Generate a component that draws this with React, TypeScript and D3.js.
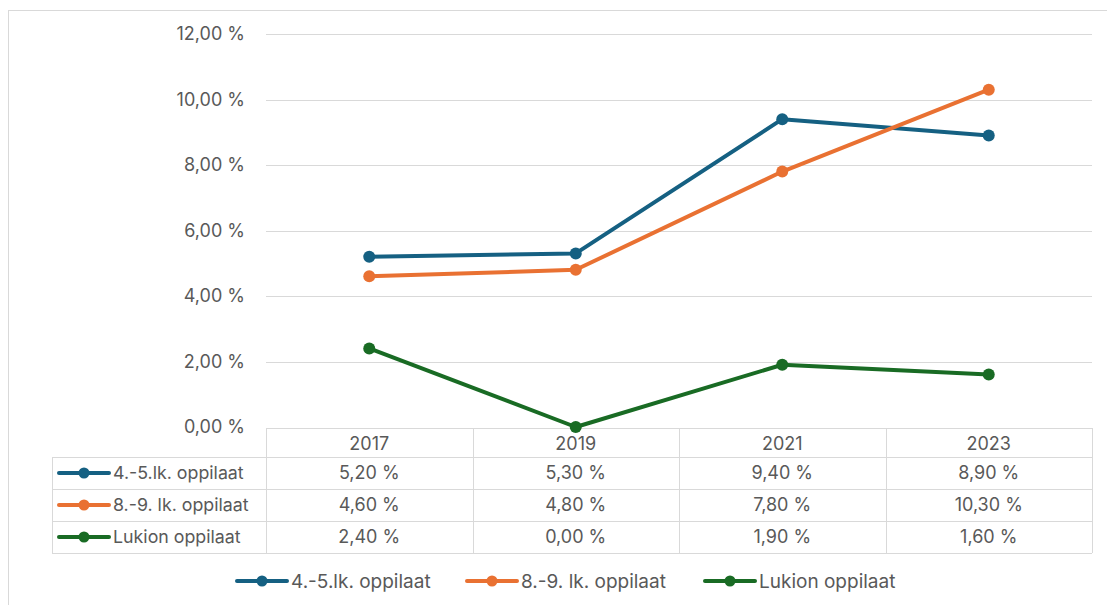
import { useRef, useEffect } from 'react';
import * as d3 from 'd3';

const years = ['2017', '2019', '2021', '2023'];
const seriesNames = ['4.-5.lk. oppilaat', '8.-9. lk. oppilaat', 'Lukion oppilaat'];
const grade45 = [5.2, 5.3, 9.4, 8.9];
const grade89 = [4.6, 4.8, 7.8, 10.3];
const upper = [2.4, 0.0, 1.9, 1.6];
const colors = ['#156082', '#E97132', '#196B24'];
const yTicks = [0, 2, 4, 6, 8, 10, 12];

const W = 1107;
const H = 605;
const FONT = 'Inter, "Noto Sans", sans-serif';
const TEXT = '#595959';
const GRID = '#d9d9d9';
const NUM_SIZE = 18;
const NAME_SIZE = 17.8;

const fmt = (v: number) => v.toFixed(2).replace('.', ',') + ' %';

export default function App() {
  const svgRef = useRef<SVGSVGElement>(null);

  useEffect(() => {
    document.body.style.margin = '0';
    if (!svgRef.current) return;
    const svg = d3.select(svgRef.current);
    svg.selectAll('*').remove();

    const values = [grade45, grade89, upper];
    const margin = { left: 266, right: 15, top: 34 };
    const plotBottom = 427;

    // outer chart border
    svg.append('rect')
      .attr('x', 8.5).attr('y', 10.5)
      .attr('width', W + 10).attr('height', H + 10)
      .attr('fill', 'white').attr('stroke', GRID);

    const x = d3.scaleBand<string>()
      .domain(years)
      .range([margin.left, W - margin.right]);

    const y = d3.scaleLinear()
      .domain([0, 12])
      .range([plotBottom, margin.top]);

    // gridlines
    svg.append('g')
      .selectAll('line')
      .data(yTicks.filter(t => t > 0))
      .enter()
      .append('line')
      .attr('x1', margin.left).attr('x2', W - margin.right)
      .attr('y1', d => Math.round(y(d)) + 0.5).attr('y2', d => Math.round(y(d)) + 0.5)
      .attr('stroke', GRID).attr('stroke-width', 1);

    // y labels
    svg.append('g')
      .selectAll('text')
      .data(yTicks)
      .enter()
      .append('text')
      .attr('x', 245)
      .attr('y', d => y(d))
      .attr('dy', '0.35em')
      .attr('text-anchor', 'end')
      .attr('font-family', FONT)
      .attr('font-size', NUM_SIZE)
      .attr('fill', TEXT)
      .text(d => fmt(d));

    // data table
    const rowTops = [428, 457, 489, 521, 553];
    const tableLeft = 52;
    const tableRight = W - margin.right;
    const tg = svg.append('g').attr('stroke', GRID).attr('stroke-width', 1).attr('fill', 'none');
    rowTops.forEach((ry, i) => {
      tg.append('line')
        .attr('x1', i === 0 ? margin.left : tableLeft).attr('x2', tableRight)
        .attr('y1', ry + 0.5).attr('y2', ry + 0.5);
    });
    const vx = [...years.map(yr => x(yr)!), tableRight];
    vx.forEach(v => {
      tg.append('line')
        .attr('x1', Math.round(v) + 0.5).attr('x2', Math.round(v) + 0.5)
        .attr('y1', rowTops[0]).attr('y2', rowTops[4]);
    });
    tg.append('line')
      .attr('x1', tableLeft + 0.5).attr('x2', tableLeft + 0.5)
      .attr('y1', rowTops[1]).attr('y2', rowTops[4]);

    // header years
    svg.append('g')
      .selectAll('text')
      .data(years)
      .enter()
      .append('text')
      .attr('x', d => x(d)! + x.bandwidth() / 2)
      .attr('y', (rowTops[0] + rowTops[1]) / 2 + 1)
      .attr('dy', '0.35em')
      .attr('text-anchor', 'middle')
      .attr('font-family', FONT).attr('font-size', NUM_SIZE).attr('fill', TEXT)
      .text(d => d);

    const legendKey = (g: d3.Selection<SVGGElement, unknown, null, undefined>, cx: number, cy: number, color: string) => {
      g.append('line')
        .attr('x1', cx - 25).attr('x2', cx + 25)
        .attr('y1', cy).attr('y2', cy)
        .attr('stroke', color).attr('stroke-width', 4).attr('stroke-linecap', 'round');
      g.append('circle')
        .attr('cx', cx).attr('cy', cy).attr('r', 5.5)
        .attr('fill', color);
    };

    seriesNames.forEach((name, i) => {
      const cy = (rowTops[i + 1] + rowTops[i + 2]) / 2;
      const g = svg.append('g');
      legendKey(g, 84, cy, colors[i]);
      g.append('text')
        .attr('x', 113).attr('y', cy).attr('dy', '0.35em')
        .attr('font-family', FONT).attr('font-size', NAME_SIZE).attr('fill', TEXT)
        .text(name);
      g.selectAll('text.val')
        .data(values[i])
        .enter()
        .append('text')
        .attr('class', 'val')
        .attr('x', (_, j) => x(years[j])! + x.bandwidth() / 2)
        .attr('y', cy).attr('dy', '0.35em')
        .attr('text-anchor', 'middle')
        .attr('font-family', FONT).attr('font-size', NUM_SIZE).attr('fill', TEXT)
        .text(d => fmt(d));
    });

    // lines
    const line = d3.line<number>()
      .x((_, j) => x(years[j])! + x.bandwidth() / 2)
      .y(d => y(d));

    values.forEach((vals, i) => {
      svg.append('path')
        .datum(vals)
        .attr('d', line)
        .attr('fill', 'none')
        .attr('stroke', colors[i])
        .attr('stroke-width', 4)
        .attr('stroke-linejoin', 'round')
        .attr('stroke-linecap', 'round');
      svg.append('g')
        .selectAll('circle')
        .data(vals)
        .enter()
        .append('circle')
        .attr('cx', (_, j) => x(years[j])! + x.bandwidth() / 2)
        .attr('cy', d => y(d))
        .attr('r', 6)
        .attr('fill', colors[i]);
    });

    // bottom legend
    const legendX = [262, 492, 730];
    seriesNames.forEach((name, i) => {
      const g = svg.append('g');
      legendKey(g, legendX[i], 581, colors[i]);
      g.append('text')
        .attr('x', legendX[i] + 29).attr('y', 581).attr('dy', '0.35em')
        .attr('font-family', FONT).attr('font-size', 19).attr('fill', TEXT)
        .text(name);
    });
  }, []);

  return <svg ref={svgRef} width={W} height={H} style={{ display: 'block' }} />;
}
